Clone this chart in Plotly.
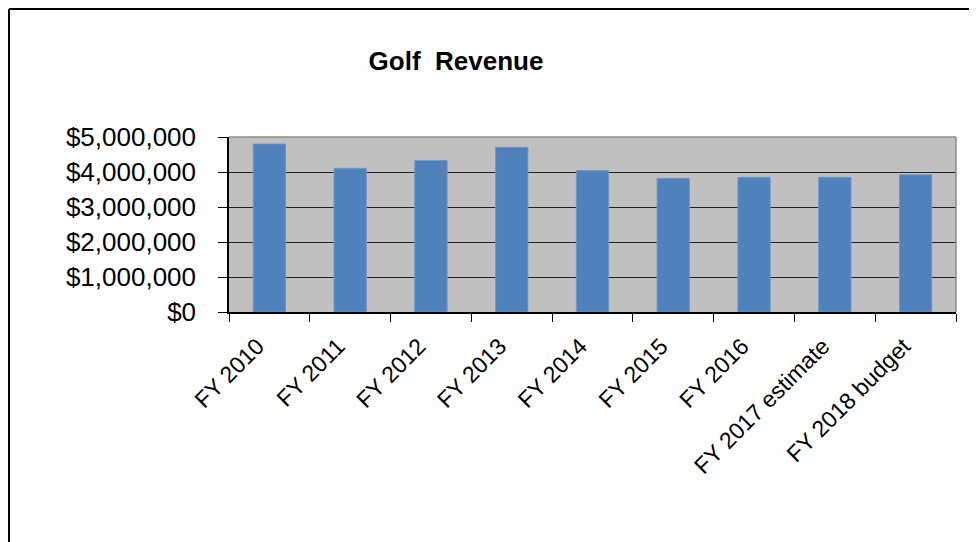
import plotly.graph_objects as go

categories = ["FY 2010", "FY 2011", "FY 2012", "FY 2013", "FY 2014",
              "FY 2015", "FY 2016", "FY 2017 estimate", "FY 2018 budget"]
revenue = [4800000, 4105000, 4330000, 4705000, 4040000,
           3820000, 3850000, 3850000, 3920000]
y_ticks = [0, 1000000, 2000000, 3000000, 4000000, 5000000]
y_tick_labels = ["${:,}".format(v) for v in y_ticks]

OFF = 8  # page body margin
W, H = 977 - OFF, 542 - OFF
L, R, T, B = 229 - OFF, 956 - OFF, 137 - OFF, 312 - OFF
pw, ph = R - L, B - T

def px(x):
    return (x - L) / pw

FONT = "Arial, 'Liberation Sans', sans-serif"

fig = go.Figure(go.Bar(
    x=categories, y=revenue,
    marker=dict(color="#4F81BD", line=dict(color="#7096c6", width=1)),
))

fig.update_layout(
    width=W, height=H,
    margin=dict(l=L, r=W - R, t=T, b=H - B, pad=0),
    paper_bgcolor="white",
    plot_bgcolor="#C0C0C0",
    bargap=0.6,
    showlegend=False,
    font=dict(family=FONT, color="black"),
    title=dict(text="<b>Golf\u00a0 Revenue</b>", x=px(456 - OFF), xref="paper", xanchor="center",
               y=1 - (61 - OFF) / H, yref="container", yanchor="middle",
               font=dict(size=26, family=FONT, color="black")),
)

fig.update_xaxes(
    type="category", tickangle=-45, tickson="boundaries",
    ticks="outside", ticklen=8, tickcolor="black", tickwidth=1,
    showline=True, linecolor="black", linewidth=1.5,
    showgrid=False, tickfont=dict(size=23, family=FONT, color="black"),
    ticklabelstandoff=10, ticklabelshift=-12,
)
fig.update_yaxes(
    range=[0, 5000000], tickmode="array", tickvals=y_ticks, ticktext=y_tick_labels,
    ticks="outside", ticklen=9, tickcolor="black", tickwidth=1,
    showline=True, linecolor="black", linewidth=1.5,
    showgrid=True, gridcolor="#222222", gridwidth=1.3,
    tickfont=dict(size=26, family=FONT, color="black"),
    ticklabelstandoff=17, zeroline=False,
)

# gray top and right border of plot area
fig.add_shape(type="line", xref="paper", yref="paper", x0=0, x1=1, y0=1, y1=1,
              line=dict(color="#8c8c8c", width=1.5))
fig.add_shape(type="line", xref="paper", yref="paper", x0=1, x1=1, y0=0, y1=1,
              line=dict(color="#8c8c8c", width=1.5))
# outer chart border (figure edge, top and left)
fig.add_shape(type="line", xref="paper", yref="paper",
              x0=px(1), x1=px(W + 5), y0=(B - 1) / ph, y1=(B - 1) / ph,
              line=dict(color="black", width=2))
fig.add_shape(type="line", xref="paper", yref="paper",
              x0=px(1), x1=px(1), y0=(B - 1) / ph, y1=(B - H - 5) / ph,
              line=dict(color="black", width=2))

fig.write_html("out.html")
